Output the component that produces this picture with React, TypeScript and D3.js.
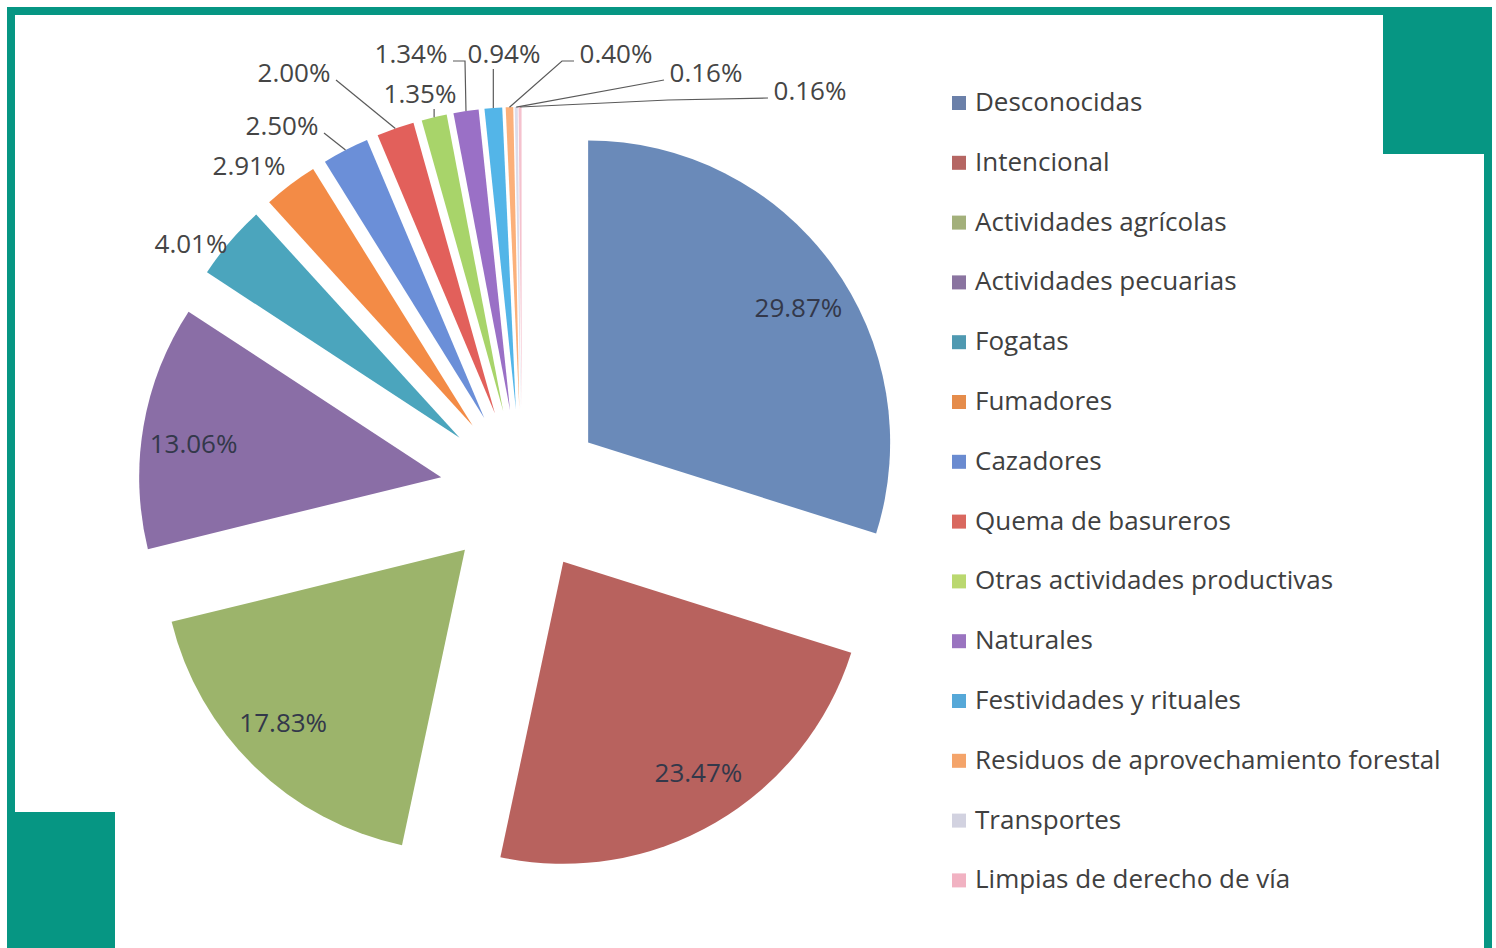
import React from "react";
import * as d3 from "d3";

const WIDTH = 1496;
const HEIGHT = 948;
const TEAL = "#069683";

// causes of forest fires, share of total (%)
const categories = [
  "Desconocidas",
  "Intencional",
  "Actividades agrícolas",
  "Actividades pecuarias",
  "Fogatas",
  "Fumadores",
  "Cazadores",
  "Quema de basureros",
  "Otras actividades productivas",
  "Naturales",
  "Festividades y rituales",
  "Residuos de aprovechamiento forestal",
  "Transportes",
  "Limpias de derecho de vía",
];
const shares = [29.87, 23.47, 17.83, 13.06, 4.01, 2.91, 2.5, 2.0, 1.35, 1.34, 0.94, 0.4, 0.16, 0.16];
const sliceColors = [
  "#6a8ab9", "#b8625e", "#9cb46b", "#8a6ea6", "#4ba5bd", "#f38b46", "#6b8fd8",
  "#e2605b", "#a8d46a", "#9a70c6", "#53b5e8", "#fbb07a", "#dcdcea", "#f5c2ce",
];
const legendColors = [
  "#6b80a9", "#b56663", "#a3b07b", "#8a74a0", "#4f99b1", "#e58c4b", "#6a8bd0",
  "#d9685f", "#bad86f", "#9a74c0", "#56a8d8", "#f4a46a", "#d2d2e0", "#f1b2c2",
];

// label placement for the small slices (label centre + how the leader hooks on)
const callouts: ({ x: number; y: number; attach: string; elbow?: number } | null)[] = [
  null, null, null, null,
  { x: 191, y: 243, attach: "none" },
  { x: 249, y: 165, attach: "none" },
  { x: 282, y: 125, attach: "right" },
  { x: 294, y: 72, attach: "right" },
  { x: 420, y: 93, attach: "bottom" },
  { x: 411, y: 53, attach: "right", elbow: 12 },
  { x: 504, y: 53, attach: "bottom" },
  { x: 616, y: 53, attach: "left", elbow: 12 },
  { x: 706, y: 72, attach: "left" },
  { x: 810, y: 90, attach: "left", elbow: 100 },
];
// small angular nudge (degrees) for the labels sitting inside the big slices
const insideNudge = [3.5, -2.5, 2.5, -1.8];

const CX = 522;
const CY = 491;
const R = 302;
const EXPLODE = 82;
const LABEL_R = 250;

export default function App() {
  const pie = d3.pie<number>().sort(null).value((d) => d);
  const arcs = pie(shares);
  const arcGen = d3.arc<d3.PieArcDatum<number>>().innerRadius(0).outerRadius(R);

  const slices = arcs.map((a, i) => {
    const mid = (a.startAngle + a.endAngle) / 2;
    const ox = CX + Math.sin(mid) * EXPLODE;
    const oy = CY - Math.cos(mid) * EXPLODE;
    const la = mid + ((insideNudge[i] || 0) * Math.PI) / 180;
    return {
      i,
      a,
      ox,
      oy,
      outer: [ox + Math.sin(mid) * R, oy - Math.cos(mid) * R],
      inner: [ox + Math.sin(la) * LABEL_R, oy - Math.cos(la) * LABEL_R],
    };
  });

  const leader = (s: (typeof slices)[number]) => {
    const c = callouts[s.i];
    if (!c || c.attach === "none") return null;
    const [px, py] = s.outer;
    let pts: number[][] = [];
    if (c.attach === "bottom") {
      pts = [[px, c.y + 16], [px, py]];
    } else {
      const sx = c.attach === "left" ? c.x - 42 : c.x + 42;
      const sy = c.y + 8;
      pts = [[sx, sy]];
      if (c.elbow) {
        pts.push([c.attach === "left" ? sx - c.elbow : sx + c.elbow, sy + (c.elbow > 50 ? 2 : 0)]);
      }
      pts.push([px, py]);
    }
    return (
      <polyline
        key={"l" + s.i}
        points={pts.map((p) => p.join(",")).join(" ")}
        fill="none"
        stroke="#5a5a5a"
        strokeWidth={1.2}
      />
    );
  };

  return (
    <div style={{ position: "absolute", left: 0, top: 0 }}>
      <svg width={WIDTH} height={HEIGHT} style={{ display: "block" }} fontFamily="'Open Sans', sans-serif">
        <rect x={0} y={0} width={WIDTH} height={HEIGHT} fill="#ffffff" />
        {/* frame */}
        <rect x={7} y={7} width={1485} height={960} fill={TEAL} />
        <rect x={15} y={15} width={1469} height={960} fill="#ffffff" />
        <rect x={1383} y={15} width={101} height={139} fill={TEAL} />
        <rect x={15} y={812} width={100} height={140} fill={TEAL} />

        {/* exploded pie */}
        <g>
          {slices.map((s) => (
            <path
              key={s.i}
              d={arcGen(s.a) || ""}
              transform={`translate(${s.ox},${s.oy})`}
              fill={sliceColors[s.i]}
            />
          ))}
        </g>

        <g>{slices.map(leader)}</g>

        <g fontSize={26}>
          {slices.map((s) => {
            const label = shares[s.i].toFixed(2) + "%";
            const c = callouts[s.i];
            const [x, y] = c ? [c.x, c.y] : s.inner;
            return (
              <text
                key={"t" + s.i}
                x={x}
                y={y}
                textAnchor="middle"
                dominantBaseline="central"
                fill={c ? "#454545" : "#33384a"}
              >
                {label}
              </text>
            );
          })}
        </g>

        {/* legend */}
        <g fontSize={26} fill="#404040">
          {categories.map((name, i) => {
            const y = 111 + i * 59.8;
            return (
              <g key={name}>
                <rect x={952} y={y - 15} width={14} height={14} fill={legendColors[i]} />
                <text x={975} y={y}>
                  {name}
                </text>
              </g>
            );
          })}
        </g>
      </svg>
    </div>
  );
}
